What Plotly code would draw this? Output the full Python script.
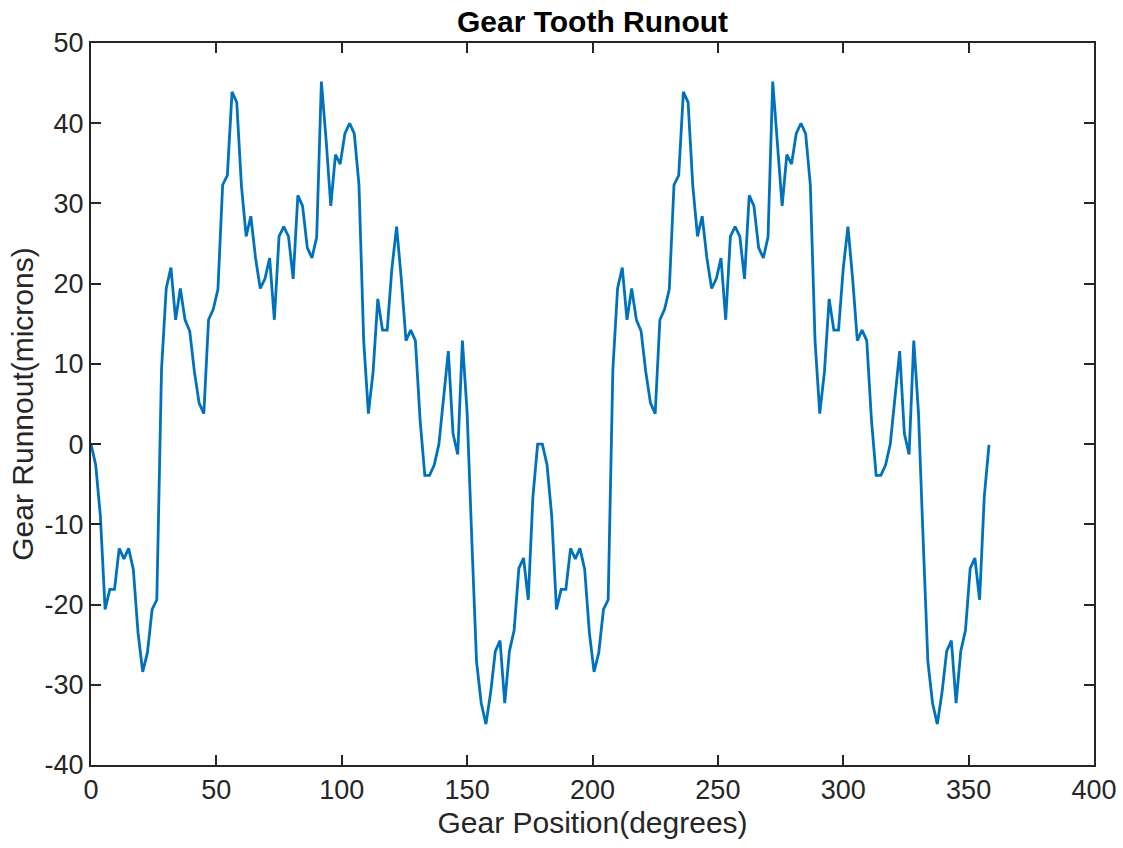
import plotly.graph_objects as go

step_deg = 1.875
runout = [
    0.0, -2.6, -9.0, -20.6, -18.1, -18.1, -13.0, -14.3, -13.0, -15.6,
    -23.5, -28.4, -26.0, -20.6, -19.4, 9.3, 19.4, 22.0, 15.5, 19.4,
    15.5, 14.1, 9.0, 5.1, 3.8, 15.5, 16.8, 19.3, 32.3, 33.5,
    43.9, 42.6, 32.2, 25.9, 28.4, 23.2, 19.4, 20.6, 23.2, 15.5,
    25.9, 27.1, 25.9, 20.6, 31.0, 29.7, 24.5, 23.2, 25.8, 45.2,
    38.0, 29.7, 36.1, 34.9, 38.7, 40.0, 38.7, 32.3, 12.9, 3.8,
    9.0, 18.1, 14.2, 14.2, 21.9, 27.1, 20.6, 12.9, 14.2, 12.9,
    3.0, -3.9, -3.9, -2.6, 0.0, 5.9, 11.6, 1.3, -1.3, 12.9,
    3.9, -12.0, -27.1, -32.3, -34.9, -31.0, -25.8, -24.5, -32.3, -25.8,
    -23.2, -15.5, -14.2, -19.4, -6.5, 0.0,
    0.0, -2.6, -9.0, -20.6, -18.1, -18.1, -13.0, -14.3, -13.0, -15.6,
    -23.5, -28.4, -26.0, -20.6, -19.4, 9.3, 19.4, 22.0, 15.5, 19.4,
    15.5, 14.1, 9.0, 5.1, 3.8, 15.5, 16.8, 19.3, 32.3, 33.5,
    43.9, 42.6, 32.2, 25.9, 28.4, 23.2, 19.4, 20.6, 23.2, 15.5,
    25.9, 27.1, 25.9, 20.6, 31.0, 29.7, 24.5, 23.2, 25.8, 45.2,
    38.0, 29.7, 36.1, 34.9, 38.7, 40.0, 38.7, 32.3, 12.9, 3.8,
    9.0, 18.1, 14.2, 14.2, 21.9, 27.1, 20.6, 12.9, 14.2, 12.9,
    3.0, -3.9, -3.9, -2.6, 0.0, 5.9, 11.6, 1.3, -1.3, 12.9,
    3.9, -12.0, -27.1, -32.3, -34.9, -31.0, -25.8, -24.5, -32.3, -25.8,
    -23.2, -15.5, -14.2, -19.4, -6.5, -0.1,
]
position = [i * step_deg for i in range(len(runout))]

x_ticks = [0, 50, 100, 150, 200, 250, 300, 350, 400]
y_ticks = [-40, -30, -20, -10, 0, 10, 20, 30, 40, 50]

FONT = "Liberation Sans, Arial, Helvetica, sans-serif"
INK = "#262626"

fig = go.Figure()
fig.add_trace(go.Scatter(
    x=position, y=runout, mode="lines",
    line=dict(color="#0072BD", width=2.8),
    hoverinfo="x+y", showlegend=False,
))

axis_common = dict(
    showline=True, linecolor=INK, linewidth=2, mirror="ticks",
    ticks="inside", ticklen=10, tickwidth=2, tickcolor=INK,
    showgrid=False, zeroline=False, automargin=False,
    ticklabeloverflow="allow",
    tickfont=dict(family=FONT, size=27, color=INK),
)

fig.update_layout(
    width=1123, height=848,
    margin=dict(l=91, r=29, t=43, b=83, autoexpand=False),
    paper_bgcolor="white", plot_bgcolor="white",
    font=dict(family=FONT, color=INK),
    title=dict(
        text="<b>Gear Tooth Runout</b>",
        font=dict(family=FONT, size=30, color="black"),
        x=0.5, xanchor="center", xref="paper",
        y=1 - 21 / 848, yanchor="middle", yref="container",
    ),
    xaxis=dict(
        range=[0, 400], tickvals=x_ticks, ticktext=[str(v) for v in x_ticks],
        title=dict(text="Gear Position(degrees)", font=dict(family=FONT, size=30, color=INK), standoff=8),
        **axis_common,
    ),
    yaxis=dict(
        range=[-40, 50], tickvals=y_ticks, ticktext=[str(v) for v in y_ticks],
        title=dict(text="Gear Runnout(microns)", font=dict(family=FONT, size=30, color=INK), standoff=2),
        **axis_common,
    ),
)

fig.write_html("out.html")
